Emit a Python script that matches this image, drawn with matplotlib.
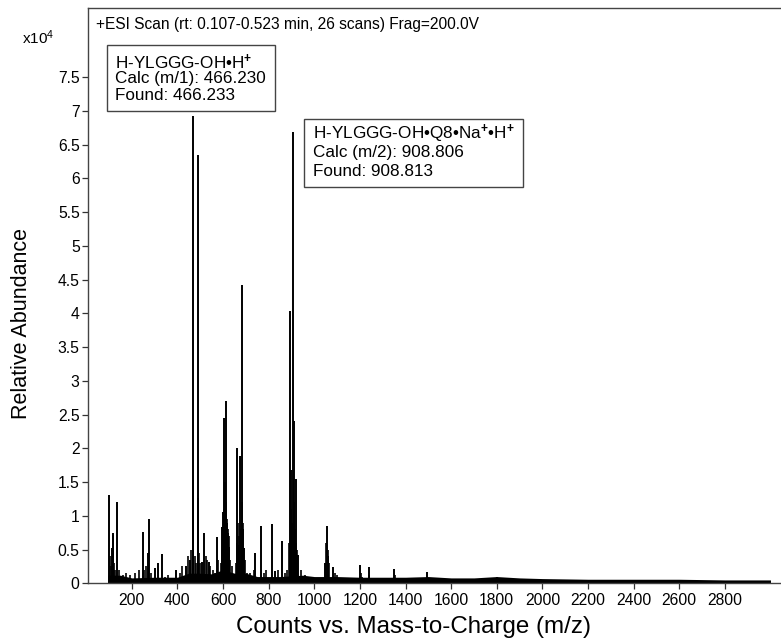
import matplotlib
matplotlib.use("Agg")
import matplotlib.pyplot as plt
from matplotlib.patches import Rectangle

plt.rcParams['font.family'] = ['Liberation Sans', 'DejaVu Sans']
plt.rcParams['mathtext.fontset'] = 'custom'
plt.rcParams['mathtext.rm'] = 'Liberation Sans'
plt.rcParams['mathtext.it'] = 'Liberation Sans'
plt.rcParams['mathtext.bf'] = 'Liberation Sans:bold'

# ---- data (m/z, relative abundance in units of 10^4 counts) ----
# major / labelled peaks
peak_mz = [99, 112, 116, 119, 135, 247, 269, 276, 301, 313, 332, 393, 437, 454,
           466.23, 467.2, 488.2, 489.2, 509, 518, 540, 572, 597, 601, 604, 607,
           612, 615, 619, 623, 628, 663, 668, 674, 683, 686, 692, 741, 767, 814,
           829, 858, 894, 897, 908.81, 909.3, 918, 929, 1048, 1055, 1060, 1082,
           1202, 1238, 1349, 1496]
peak_h = [1.31, 0.52, 0.75, 0.72, 1.20, 0.76, 0.45, 0.95, 0.23, 0.30, 0.43, 0.20, 0.26, 0.35,
          6.93, 1.53, 6.35, 1.26, 0.32, 0.75, 0.32, 0.69, 0.83, 1.06, 2.45, 1.50,
          2.70, 1.06, 0.89, 0.75, 0.54, 2.00, 0.57, 1.89, 4.42, 0.80, 0.52, 0.45, 0.85, 0.88,
          0.18, 0.63, 4.04, 1.68, 6.69, 2.40, 1.55, 0.42, 0.30, 0.85, 0.40, 0.24,
          0.27, 0.24, 0.21, 0.17]

# small peaks forming the dense lower structure
minor_mz = [105, 108, 123, 128, 145, 160, 175, 190, 215, 232, 255, 262, 285, 345, 360,
            410, 420, 445, 458, 475, 480, 495, 500, 525, 530, 545, 555, 565, 580, 590,
            594, 599, 603, 606, 609, 614, 617, 621, 625, 632, 640, 655, 660, 665, 671,
            677, 681, 688, 695, 705, 720, 735, 780, 790, 840, 870, 880, 890, 900, 903,
            912, 915, 920, 925, 940, 960, 1052, 1058, 1065, 1090, 1100, 1205, 1210,
            1242, 1352, 1360, 1440, 1800]
minor_h = [0.40, 0.25, 0.30, 0.20, 0.20, 0.12, 0.15, 0.12, 0.15, 0.20, 0.20, 0.25, 0.15, 0.10, 0.12,
           0.15, 0.25, 0.40, 0.50, 0.40, 0.30, 0.45, 0.30, 0.40, 0.35, 0.25, 0.20, 0.15, 0.35, 0.30,
           0.50, 0.60, 0.90, 1.10, 1.00, 1.20, 0.95, 0.80, 0.70, 0.35, 0.25, 0.30, 0.60, 0.90, 0.70,
           0.80, 1.20, 0.90, 0.35, 0.15, 0.15, 0.20, 0.15, 0.20, 0.20, 0.15, 0.20, 0.60, 1.10, 0.90,
           1.20, 0.80, 0.60, 0.50, 0.20, 0.12, 0.60, 0.50, 0.30, 0.15, 0.12, 0.15, 0.10,
           0.12, 0.12, 0.08, 0.08, 0.10]

baseline_mz = [95, 150, 200, 300, 400, 450, 500, 550, 600, 650, 700, 750, 800, 850,
               950, 1000, 1100, 1200, 1300, 1400, 1500, 1600, 1700, 1800, 1900, 2000,
               2200, 2400, 2600, 2800, 3000]
baseline_h = [0.12, 0.12, 0.08, 0.09, 0.09, 0.15, 0.15, 0.14, 0.20, 0.15, 0.15, 0.10, 0.10, 0.10,
              0.12, 0.10, 0.10, 0.09, 0.09, 0.09, 0.10, 0.08, 0.08, 0.10, 0.08, 0.07,
              0.06, 0.06, 0.06, 0.05, 0.05]

x_ticks = [200, 400, 600, 800, 1000, 1200, 1400, 1600, 1800, 2000, 2200, 2400, 2600, 2800]
y_ticks = [0, 0.5, 1, 1.5, 2, 2.5, 3, 3.5, 4, 4.5, 5, 5.5, 6, 6.5, 7, 7.5]

title = "+ESI Scan (rt: 0.107-0.523 min, 26 scans) Frag=200.0V"
box1_lines = ["H-YLGGG-OH\u2022H$^{\\mathbf{+}}$", "Calc (m/1): 466.230", "Found: 466.233"]
box2_lines = ["H-YLGGG-OH\u2022Q8\u2022Na$^{\\mathbf{+}}$\u2022H$^{\\mathbf{+}}$",
              "Calc (m/2): 908.806", "Found: 908.813"]

W, H = 781, 644
fig = plt.figure(figsize=(W / 100, H / 100), dpi=100)
fig.patch.set_edgecolor('none')
fig.patch.set_linewidth(0)

def fx(px):
    return px / W

def fy(py):
    return 1 - py / H

left, top, bottom = 88, 8, 583.3
axes_w_px = 900          # axes run past the right edge of the image
px_per_unit = 0.2281
x_min = 8
ax = fig.add_axes([fx(left), fy(bottom), fx(axes_w_px), fy(top) - fy(bottom)])

ax.fill_between(baseline_mz, 0, baseline_h, color='black', lw=0)
ax.vlines(minor_mz, 0, minor_h, color='black', lw=1.2)
ax.vlines(peak_mz, 0, peak_h, color='black', lw=1.4)

ax.set_xlim(x_min, x_min + axes_w_px / px_per_unit)
ax.set_ylim(0, 8.527)
ax.set_xticks(x_ticks)
ax.set_xticklabels([str(v) for v in x_ticks])
ax.set_yticks(y_ticks)
ax.set_yticklabels([f"{v:g}" for v in y_ticks])
ax.tick_params(axis='both', labelsize=11.3, length=4, width=0.9, color='#333333', pad=3)
ax.tick_params(axis='y', pad=2)

for s in ['left', 'bottom', 'top']:
    ax.spines[s].set_color('#444444')
    ax.spines[s].set_linewidth(1.0)
ax.spines['right'].set_visible(False)

fig.text(fx(22), fy(324), "Relative Abundance", rotation=90, fontsize=15.5,
         ha='center', va='center')
fig.text(fx(414), fy(627), "Counts vs. Mass-to-Charge (m/z)", fontsize=17.4,
         ha='center', va='center')
fig.text(fx(22), fy(38), "x10$^{4}$", fontsize=11, ha='left', va='center')
fig.text(fx(96), fy(24), title, fontsize=11.2, ha='left', va='center')

def draw_box(x0, y0, x1, y1, tx, ys, lines):
    fig.patches.append(Rectangle((fx(x0), fy(y1)), fx(x1 - x0), fy(y0) - fy(y1),
                                 transform=fig.transFigure, fill=True, facecolor='white',
                                 edgecolor='#444444', lw=1.0, zorder=5))
    for yy, ln in zip(ys, lines):
        fig.text(fx(tx), fy(yy), ln, fontsize=12.3, ha='left', va='center', zorder=6)

draw_box(107, 45, 275, 111, 115, [62, 79, 96], box1_lines)
draw_box(304, 119, 523, 187, 313, [134, 153, 171], box2_lines)

fig.savefig("out.png", dpi=100)
